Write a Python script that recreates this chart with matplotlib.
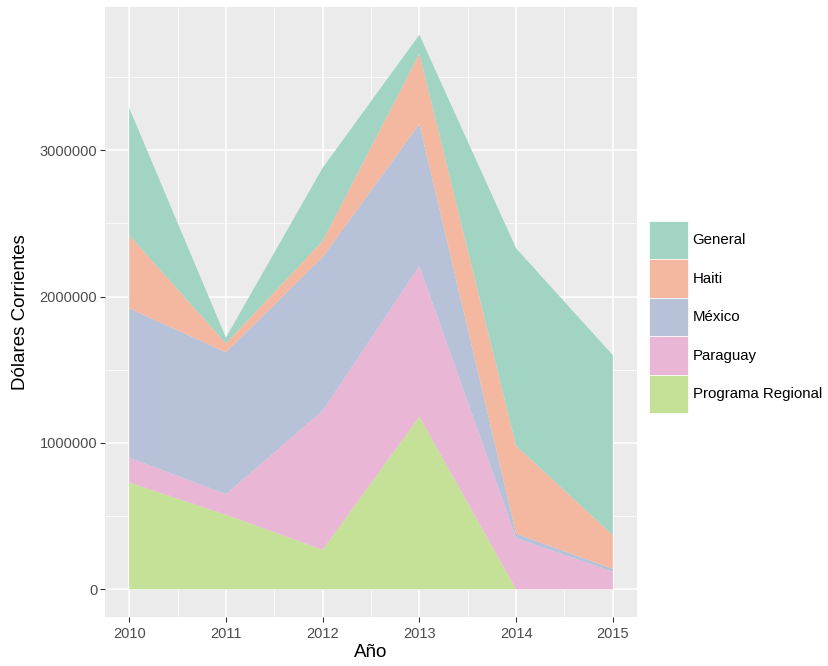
import matplotlib
matplotlib.use("Agg")
import matplotlib.pyplot as plt
import numpy as np
from matplotlib.patches import Patch

plt.rcParams["font.family"] = ["Liberation Sans", "DejaVu Sans"]

# data (millions)
years = [2010, 2011, 2012, 2013, 2014, 2015]
programa_regional = [0.73, 0.51, 0.27, 1.18, 0.00, 0.00]
paraguay = [0.17, 0.14, 0.95, 1.03, 0.35, 0.12]
mexico = [1.02, 0.97, 1.05, 0.97, 0.03, 0.02]
haiti = [0.50, 0.06, 0.11, 0.48, 0.60, 0.23]
general = [0.87, 0.04, 0.50, 0.13, 1.35, 1.23]

series_names = ["Programa Regional", "Paraguay", "México", "Haiti", "General"]
series = [programa_regional, paraguay, mexico, haiti, general]

# Set2 colours at alpha ~0.55 over ggplot grey
bg = np.array([235, 235, 235]) / 255
set2 = ["#A6D854", "#E78AC3", "#8DA0CB", "#FC8D62", "#66C2A5"]
alpha = 0.55
colors = [tuple(alpha * np.array(matplotlib.colors.to_rgb(c)) + (1 - alpha) * bg) for c in set2]

W, H = 829, 666
fig = plt.figure(figsize=(W / 100, H / 100), dpi=100)
ax = fig.add_axes([105 / W, 1 - 617 / H, (637 - 105) / W, (617 - 7) / H])
ax.set_facecolor("#EBEBEB")

vals = [np.array(s) * 1e6 for s in series]
ax.stackplot(years, *vals, colors=colors, linewidth=0)

ax.set_xlim(2009.75, 2015.25)
ax.set_ylim(-0.05 * 3.79e6, 3.79e6 * 1.05)
ax.set_xticks(years)
ax.set_xticks(np.arange(2010.5, 2015, 1), minor=True)
ax.set_yticks([0, 1e6, 2e6, 3e6])
ax.set_yticklabels(["0", "1000000", "2000000", "3000000"])
ax.set_yticks([0.5e6, 1.5e6, 2.5e6, 3.5e6], minor=True)
ax.grid(which="major", color="white", linewidth=1.1)
ax.grid(which="minor", color="white", linewidth=0.5)
ax.set_axisbelow(True)
for sp in ax.spines.values():
    sp.set_visible(False)
ax.tick_params(which="major", length=3.5, color="#333333", labelcolor="#4D4D4D", labelsize=10.5, pad=2)
ax.tick_params(axis="x", which="major", pad=4)
ax.tick_params(which="minor", length=0)

ax.set_xlabel("Año", fontsize=13.5, labelpad=2)
ax.set_ylabel("Dólares Corrientes", fontsize=13.5, labelpad=8)

handles = [Patch(facecolor=c, edgecolor="white", linewidth=0.5) for c in colors][::-1]
labels = series_names[::-1]
fs = 10.8
fig.legend(handles, labels, loc="center left", bbox_to_anchor=(648 / W, 1 - 317 / H),
           frameon=False, fontsize=fs, handlelength=2.6, handleheight=3.56,
           labelspacing=0, handletextpad=0.27, borderpad=0.1, borderaxespad=0)

fig.savefig("out.png", dpi=100)
